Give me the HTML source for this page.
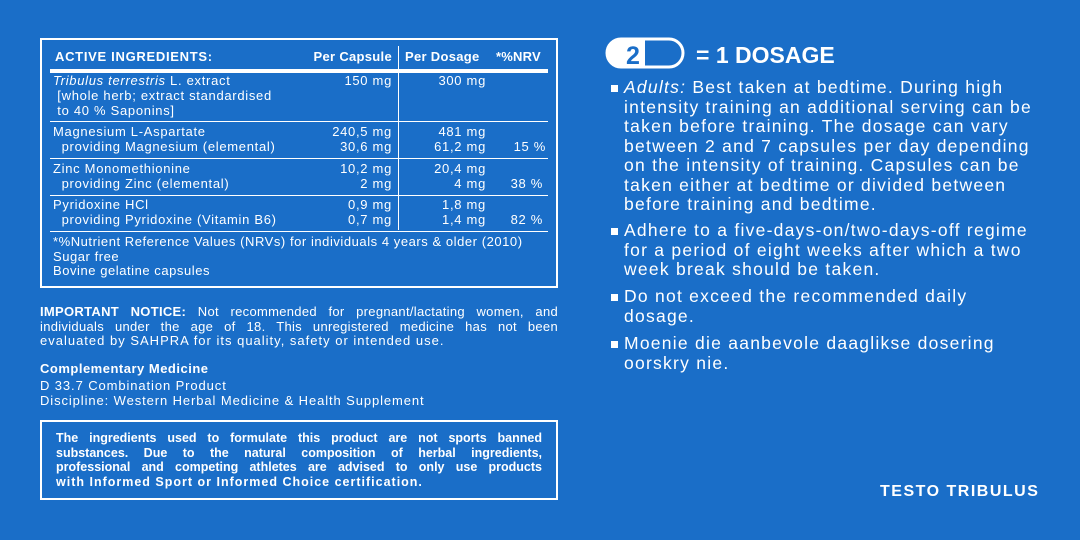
<!DOCTYPE html><html><head><style>
body{margin:0;width:1080px;height:540px;background:#1a6ec8;overflow:hidden;font-family:"Liberation Sans",sans-serif;color:#fff;position:relative}
.a{position:absolute;white-space:nowrap}
.t{font-size:13px;line-height:15px;letter-spacing:0.7px}
.r{text-align:right}
.b{font-weight:bold}
.j{text-align:justify;text-align-last:justify;white-space:normal}
.rt{font-size:17.5px;line-height:19.5px;letter-spacing:1.25px}
.hl{position:absolute;background:#fff}
.sq{position:absolute;width:7px;height:7px;background:#fff}
</style></head><body>
<div style="position:absolute;left:40px;top:38px;width:514px;height:246px;border:2px solid #fff"></div>
<div class="hl" style="left:50px;top:69px;width:498px;height:4px"></div>
<div class="hl" style="left:398px;top:46px;width:1px;height:184px"></div>
<div class="hl" style="left:50px;top:121px;width:498px;height:1px"></div>
<div class="hl" style="left:50px;top:158px;width:498px;height:1px"></div>
<div class="hl" style="left:50px;top:195px;width:498px;height:1px"></div>
<div class="hl" style="left:50px;top:231px;width:498px;height:1px"></div>
<div class="a t b" style="left:55px;top:49px">ACTIVE INGREDIENTS:</div>
<div class="a t b r" style="right:688px;top:49px;letter-spacing:0.3px">Per Capsule</div>
<div class="a t b" style="left:405px;top:49px;letter-spacing:0.3px">Per Dosage</div>
<div class="a t b" style="left:496px;top:49px;letter-spacing:0.2px">*%NRV</div>
<div class="a t" style="left:53px;top:73px"><i>Tribulus terrestris</i> L. extract<br>&nbsp;[whole herb; extract standardised<br>&nbsp;to 40 % Saponins]</div>
<div class="a t r" style="right:688px;top:73px">150 mg</div>
<div class="a t r" style="right:594px;top:73px">300 mg</div>
<div class="a t" style="left:53px;top:124px">Magnesium L-Aspartate<br>&nbsp;&nbsp;providing Magnesium (elemental)</div>
<div class="a t r" style="right:688px;top:124px">240,5 mg<br>30,6 mg</div>
<div class="a t r" style="right:594px;top:124px">481 mg<br>61,2 mg</div>
<div class="a t r" style="right:534px;top:139px">15 %</div>
<div class="a t" style="left:53px;top:161px">Zinc Monomethionine<br>&nbsp;&nbsp;providing Zinc (elemental)</div>
<div class="a t r" style="right:688px;top:161px">10,2 mg<br>2 mg</div>
<div class="a t r" style="right:594px;top:161px">20,4 mg<br>4 mg</div>
<div class="a t r" style="right:537px;top:176px">38 %</div>
<div class="a t" style="left:53px;top:197px">Pyridoxine HCl<br>&nbsp;&nbsp;providing Pyridoxine (Vitamin B6)</div>
<div class="a t r" style="right:688px;top:197px">0,9 mg<br>0,7 mg</div>
<div class="a t r" style="right:594px;top:197px">1,8 mg<br>1,4 mg</div>
<div class="a t r" style="right:537px;top:212px">82 %</div>
<div class="a t" style="left:53px;top:235px;line-height:14.5px;letter-spacing:0.55px">*%Nutrient Reference Values (NRVs) for individuals 4 years &amp; older (2010)<br>Sugar free<br>Bovine gelatine capsules</div>

<div class="a t" style="left:40px;top:305px;width:518px;line-height:14.5px;letter-spacing:0.3px">
<div class="j"><b>IMPORTANT NOTICE:</b> Not recommended for pregnant/lactating women, and</div>
<div class="j">individuals under the age of 18. This unregistered medicine has not been</div>
<div style="letter-spacing:1px">evaluated by SAHPRA for its quality, safety or intended use.</div></div>
<div class="a t b" style="left:40px;top:361px;letter-spacing:0.5px">Complementary Medicine</div>
<div class="a t" style="left:40px;top:378px;line-height:15px;letter-spacing:0.9px">D 33.7 Combination Product<br>Discipline: Western Herbal Medicine &amp; Health Supplement</div>
<div style="position:absolute;left:40px;top:420px;width:514px;height:76px;border:2px solid #fff"></div>
<div class="a b" style="left:56px;top:431px;width:486px;font-size:12.5px;line-height:14.7px">
<div class="j">The ingredients used to formulate this product are not sports banned</div>
<div class="j">substances. Due to the natural composition of herbal ingredients,</div>
<div class="j">professional and competing athletes are advised to only use products</div>
<div style="letter-spacing:1px">with Informed Sport or Informed Choice certification.</div></div>

<svg style="position:absolute;left:605px;top:37px" width="80" height="32"><rect x="2" y="2" width="76" height="28" rx="14" fill="none" stroke="#fff" stroke-width="3"/><path d="M16 2 H40 V30 H16 A14 14 0 0 1 16 2Z" fill="#fff"/><text x="28" y="27" text-anchor="middle" font-family="Liberation Sans" font-weight="bold" font-size="25" fill="#1a6ec8">2</text></svg>
<div class="a b" style="left:696px;top:42px;font-size:23px">= 1 DOSAGE</div>
<div class="sq" style="left:611px;top:85px"></div>
<div class="sq" style="left:611px;top:228px"></div>
<div class="sq" style="left:611px;top:294px"></div>
<div class="sq" style="left:611px;top:341px"></div>
<div class="a rt" style="left:624px;top:78px"><i>Adults:</i> Best taken at bedtime. During high<br>intensity training an additional serving can be<br>taken before training. The dosage can vary<br>between 2 and 7 capsules per day depending<br>on the intensity of training. Capsules can be<br>taken either at bedtime or divided between<br>before training and bedtime.</div>
<div class="a rt" style="left:624px;top:221px">Adhere to a five-days-on/two-days-off regime<br>for a period of eight weeks after which a two<br>week break should be taken.</div>
<div class="a rt" style="left:624px;top:287px">Do not exceed the recommended daily<br>dosage.</div>
<div class="a rt" style="left:624px;top:334px">Moenie die aanbevole daaglikse dosering<br>oorskry nie.</div>
<div class="a b" style="left:880px;top:483px;font-size:16px;letter-spacing:1.5px">TESTO TRIBULUS</div>
</body></html>
